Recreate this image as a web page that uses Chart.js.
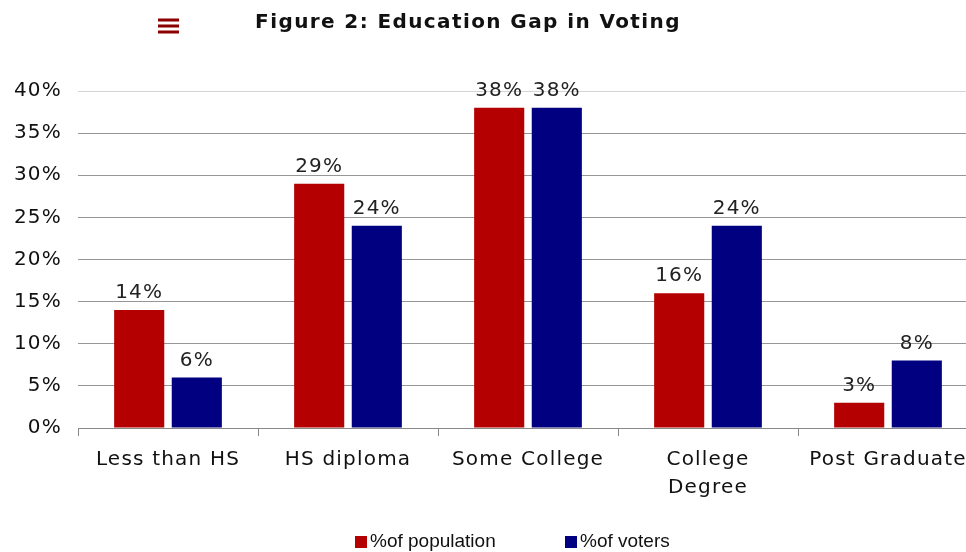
<!DOCTYPE html>
<html>
<head>
<meta charset="utf-8">
<script src="https://cdn.jsdelivr.net/npm/chart.js@4"></script>
<style>
  html, body { margin: 0; padding: 0; background: #fff; overflow: hidden; }
  #wrap { width: 990px; height: 552px; overflow: hidden; }
  #box { width: 990px; height: 552px; }
</style>
</head>
<body>
<div id="wrap"><div id="box"><canvas id="chart"></canvas></div></div>
<script>
const categories = ['Less than HS', 'HS diploma', 'Some College', ['College', 'Degree'], 'Post Graduate'];
const population = [14, 29, 38, 16, 3];
const voters = [6, 24, 38, 24, 8];
const yTicks = [0, 5, 10, 15, 20, 25, 30, 35, 40];

const titleText = 'Figure 2: Education Gap in Voting';
const FONT = '"DejaVu Sans", Verdana, sans-serif';
const LEGEND_FONT = '"Liberation Sans", Arial, sans-serif';

// the picture's text is a bit spaced out, apply it to everything chart.js draws
const spacing = {
  id: 'spacing',
  beforeUpdate(chart) { chart.ctx.letterSpacing = '1.2px'; },
  beforeDraw(chart) { chart.ctx.letterSpacing = '1.2px'; }
};

// title and the little red menu icon
const headerPlugin = {
  id: 'header',
  afterDraw(chart) {
    const ctx = chart.ctx;
    ctx.save();
    ctx.fillStyle = '#8b0000';
    [20, 26, 32].forEach(y => ctx.fillRect(158, y - 1.5, 21, 3));
    ctx.fillStyle = '#111';
    ctx.letterSpacing = '1.4px';
    ctx.font = 'bold 20px ' + FONT;
    ctx.textAlign = 'center';
    ctx.textBaseline = 'middle';
    ctx.fillText(titleText, 468, 23);
    ctx.restore();
  }
};

// legend drawn by hand so the wide gap between the two entries can be kept
const legendPlugin = {
  id: 'customLegend',
  afterDraw(chart) {
    const ctx = chart.ctx;
    const xs = [355, 565];
    ctx.save();
    ctx.letterSpacing = '0px';
    ctx.font = '19px ' + LEGEND_FONT;
    ctx.textBaseline = 'middle';
    chart.data.datasets.forEach((ds, i) => {
      ctx.fillStyle = ds.backgroundColor;
      ctx.fillRect(xs[i], 536, 12, 12);
      ctx.fillStyle = '#111';
      ctx.fillText(ds.label, xs[i] + 15, 542);
    });
    ctx.restore();
  }
};

// value labels above each bar
const valueLabels = {
  id: 'valueLabels',
  afterDatasetsDraw(chart) {
    const ctx = chart.ctx;
    ctx.save();
    ctx.font = '20px ' + FONT;
    ctx.fillStyle = '#222';
    ctx.textAlign = 'center';
    ctx.textBaseline = 'bottom';
    chart.data.datasets.forEach((ds, i) => {
      chart.getDatasetMeta(i).data.forEach((bar, j) => {
        ctx.fillText(ds.data[j] + '%', bar.x, bar.y - 7);
      });
    });
    ctx.restore();
  }
};

new Chart(document.getElementById('chart'), {
  type: 'bar',
  data: {
    labels: categories,
    datasets: [
      { label: '%of population', data: population, backgroundColor: '#b40000', categoryPercentage: 0.64, barPercentage: 0.87 },
      { label: '%of voters', data: voters, backgroundColor: '#000080', categoryPercentage: 0.64, barPercentage: 0.87 }
    ]
  },
  options: {
    responsive: true,
    maintainAspectRatio: false,
    animation: false,
    layout: { padding: { top: 91, right: 12, left: 0, bottom: 40 } },
    plugins: {
      title: { display: false },
      tooltip: { enabled: false },
      legend: { display: false }
    },
    scales: {
      x: {
        grid: { display: true, drawOnChartArea: false, offset: true, color: '#888', tickLength: 8 },
        border: { color: '#888' },
        ticks: {
          color: '#111',
          padding: 10,
          maxRotation: 0,
          autoSkip: false,
          font: { family: FONT, size: 20, lineHeight: 1.4 }
        }
      },
      y: {
        min: 0,
        max: 40,
        afterFit(scale) { scale.width = 78; },
        afterBuildTicks(scale) { scale.ticks = yTicks.map(v => ({ value: v })); },
        grid: {
          color: c => (c.tick && c.tick.value === 40 ? '#d4d4d4' : '#969696'),
          drawTicks: false
        },
        border: { display: false },
        ticks: {
          color: '#111',
          padding: 16,
          autoSkip: false,
          font: { family: FONT, size: 20 },
          callback: v => v + '%'
        }
      }
    }
  },
  plugins: [spacing, headerPlugin, legendPlugin, valueLabels]
});
</script>
</body>
</html>
